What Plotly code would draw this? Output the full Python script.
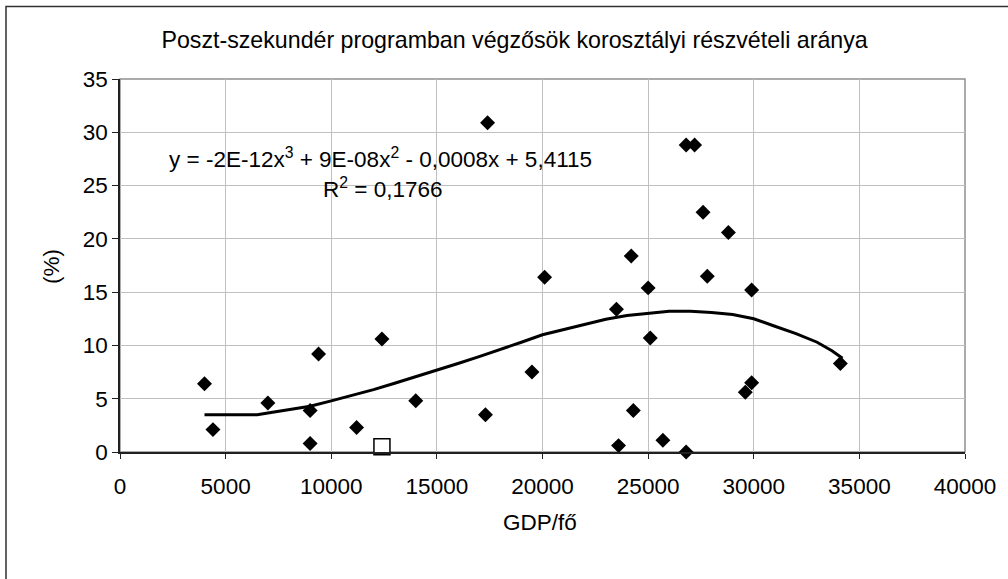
import plotly.graph_objects as go

# GDP per capita (x) and participation rate in % (y)
gdp = [4000, 4400, 7000, 9000, 9000, 9400, 11200, 12400, 14000, 17300, 17400, 19500,
       20100, 23500, 23600, 24200, 24300, 25000, 25100, 25700, 26800, 26800, 27200,
       27600, 27800, 28800, 29600, 29900, 29900, 34100]
rate = [6.4, 2.1, 4.6, 3.9, 0.8, 9.2, 2.3, 10.6, 4.8, 3.5, 30.9, 7.5,
        16.4, 13.4, 0.6, 18.4, 3.9, 15.4, 10.7, 1.1, 0.0, 28.8, 28.8,
        22.5, 16.5, 20.6, 5.6, 15.2, 6.5, 8.3]

# highlighted country (hollow square)
hl_gdp = [12400]
hl_rate = [0.5]

# polynomial trend line as drawn in the picture
trend_x = [4000, 5000, 6000, 6500, 7000, 8000, 9000, 10000, 11000, 12000, 13000, 14000,
           15000, 16000, 17000, 18000, 19000, 20000, 21000, 22000, 23000, 24000, 25000,
           26000, 27000, 28000, 29000, 30000, 31000, 32000, 33000, 33700, 34200]
trend_y = [3.5, 3.5, 3.5, 3.5, 3.65, 3.95, 4.3, 4.8, 5.3, 5.85, 6.45, 7.05,
           7.65, 8.3, 8.95, 9.6, 10.3, 11.0, 11.5, 12.0, 12.45, 12.8, 13.0,
           13.2, 13.2, 13.1, 12.9, 12.5, 11.8, 11.1, 10.3, 9.5, 8.8]

x_ticks = [0, 5000, 10000, 15000, 20000, 25000, 30000, 35000, 40000]
x_tick_labels = ["0", "5000", "10000", "15000", "20000", "25000", "30000", "35000", "40000"]
y_ticks = [0, 5, 10, 15, 20, 25, 30, 35]
y_tick_labels = ["0", "5", "10", "15", "20", "25", "30", "35"]

title = "Poszt-szekundér programban végzősök korosztályi részvételi aránya"
equation = "y = -2E-12x<sup>3</sup> + 9E-08x<sup>2</sup> - 0,0008x + 5,4115"
r2 = "R<sup>2</sup> = 0,1766"

FONT = "Liberation Sans, Arial, sans-serif"

fig = go.Figure()
fig.add_trace(go.Scatter(x=trend_x, y=trend_y, mode="lines",
                         line=dict(color="black", width=3), hoverinfo="skip"))
fig.add_trace(go.Scatter(x=gdp, y=rate, mode="markers", cliponaxis=False,
                         marker=dict(symbol="diamond", size=11.5, color="black",
                                     line=dict(width=0))))
fig.add_trace(go.Scatter(x=hl_gdp, y=hl_rate, mode="markers", cliponaxis=False,
                         marker=dict(symbol="square", size=16, color="white",
                                     line=dict(color="black", width=1.5))))

fig.update_layout(
    width=1008, height=579,
    margin=dict(l=120, r=43, t=79, b=127),
    paper_bgcolor="white", plot_bgcolor="white",
    showlegend=False,
    font=dict(family=FONT, size=22.5, color="black"),
    title=dict(text=title, x=0.467, xref="paper", y=1 - 40 / 579, yref="container",
               xanchor="center", yanchor="middle",
               font=dict(family=FONT, size=23.2, color="black")),
    xaxis=dict(range=[0, 40000], tickvals=x_ticks, ticktext=x_tick_labels,
               showgrid=True, gridcolor="#c0c0c0", gridwidth=1, zeroline=False,
               showline=True, linecolor="#202020", linewidth=1.5,
               ticks="outside", ticklen=5, tickcolor="#202020",
               tickfont=dict(family=FONT, size=22.5), ticklabelstandoff=8),
    yaxis=dict(range=[0, 35], tickvals=y_ticks, ticktext=y_tick_labels,
               showgrid=True, gridcolor="#c0c0c0", gridwidth=1, zeroline=False,
               showline=True, linecolor="#202020", linewidth=1.5,
               ticks="outside", ticklen=6, tickcolor="#202020",
               tickfont=dict(family=FONT, size=22.5)),
    shapes=[
        dict(type="rect", xref="paper", yref="paper", x0=0, x1=1, y0=0, y1=1,
             line=dict(color="#909090", width=1.5), layer="below"),
        dict(type="rect", xref="paper", yref="paper",
             x0=(6 - 120) / 845, x1=(1015 - 120) / 845,
             y0=(452 - 590) / 373, y1=(452 - 6.5) / 373,
             line=dict(color="#303030", width=1.5), layer="below"),
    ],
    annotations=[
        dict(text=equation, x=12335, y=27.6, xref="x", yref="y", showarrow=False,
             xanchor="center", yanchor="middle", font=dict(family=FONT, size=22.5)),
        dict(text=r2, x=12406, y=24.8, xref="x", yref="y", showarrow=False,
             xanchor="center", yanchor="middle", font=dict(family=FONT, size=22.5)),
        dict(text="GDP/fő", x=(540 - 120) / 845, y=(452 - 522) / 373, xref="paper", yref="paper",
             showarrow=False, xanchor="center", yanchor="middle", font=dict(family=FONT, size=22.5)),
        dict(text="(%)", x=(51 - 120) / 845, y=(452 - 267) / 373, xref="paper", yref="paper",
             showarrow=False, xanchor="center", yanchor="middle", textangle=-90,
             font=dict(family=FONT, size=22.5)),
    ],
)

fig.write_html("out.html", config={"displayModeBar": False},
               post_script="document.body.style.margin='0';")
